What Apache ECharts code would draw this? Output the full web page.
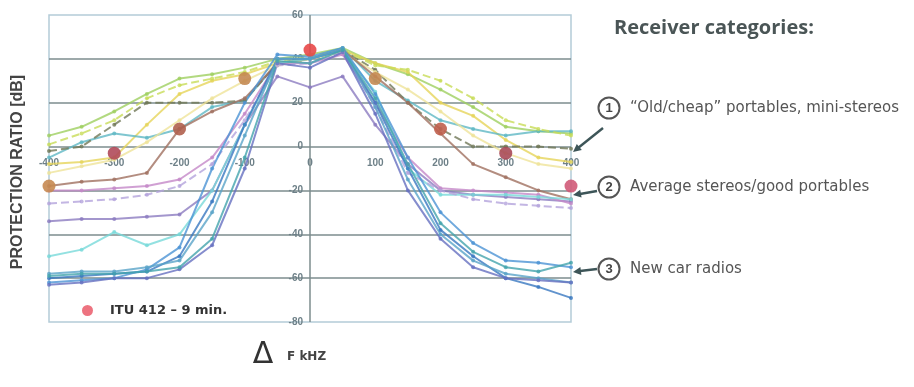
<!DOCTYPE html>
<html>
<head>
<meta charset="utf-8">
<script src="https://cdn.jsdelivr.net/npm/echarts@6/dist/echarts.min.js"></script>
<style>
  html, body { margin: 0; padding: 0; background: #fff; }
  #chart { width: 914px; height: 387px; }
</style>
</head>
<body>
<div id="chart"></div>
<script>
// frequency offsets (kHz) where receivers were measured
const freqs = [-400, -350, -300, -250, -200, -150, -100, -50, 0, 50, 100, 150, 200, 250, 300, 350, 400];

// 1: "Old/cheap" portables, mini-stereos
const oldA = [5, 9, 16, 24, 31, 33, 36, 40, 42, 45, 38, 33, 26, 18, 9, 7, 6];
const oldB = [-8, -7, -5, 10, 24, 30, 33, 38, 40, 44, 38, 34, 20, 14, 3, -5, -7];
const oldC = [-5, 2, 6, 4, 8, 18, 21, 38, 40, 45, 30, 21, 12, 8, 5, 7, 7];
const oldD = [-2, 0, 10, 20, 20, 20, 21, 38, 40, 44, 35, 20, 8, 0, 0, 0, -1];
const oldE = [-12, -9, -6, 2, 12, 22, 30, 37, 40, 43, 34, 26, 16, 5, -3, -8, -10];
const oldF = [1, 6, 12, 22, 28, 31, 34, 39, 41, 44, 37, 35, 30, 22, 12, 8, 5];

// 2: Average stereos / good portables
const avgA = [-18, -16, -15, -12, 8, 16, 22, 38, 40, 44, 32, 20, 6, -8, -14, -20, -24];
const avgB = [-34, -33, -33, -32, -31, -20, 10, 32, 27, 32, 10, -8, -20, -22, -23, -24, -25];
const avgC = [-20, -20, -19, -18, -15, -5, 15, 38, 38, 42, 20, -5, -19, -20, -21, -22, -26];
const avgD = [-50, -47, -39, -45, -40, -20, 10, 38, 40, 44, 25, -10, -22, -22, -22, -23, -24];
const avgE = [-26, -25, -24, -22, -18, -8, 12, 37, 38, 43, 18, -12, -20, -24, -26, -27, -28];

// 3: New car radios
const carA = [-60, -59, -58, -57, -50, -25, 10, 40, 40, 44, 20, -10, -38, -50, -60, -64, -69];
const carB = [-62, -61, -60, -56, -46, -10, 20, 42, 41, 45, 24, -5, -30, -44, -52, -53, -55];
const carC = [-58, -57, -57, -55, -52, -30, 5, 40, 40, 44, 18, -15, -40, -52, -58, -60, -62];
const carD = [-63, -62, -60, -60, -56, -45, -10, 38, 36, 43, 15, -20, -42, -55, -60, -61, -62];
const carE = [-59, -58, -58, -57, -55, -42, -5, 39, 38, 44, 22, -8, -35, -48, -55, -57, -53];

// ITU 412 reference points
const ituFreqs = [-400, -300, -200, -100, 0, 100, 200, 300, 400];
const ituVals = [-18, -3, 8, 31, 44, 31, 8, -3, -18];

const receivers = [oldA, oldB, oldC, oldD, oldE, oldF, avgA, avgB, avgC, avgD, avgE, carA, carB, carC, carD, carE];
const lineColors = ['#9fd060', '#e6d45a', '#5fb8c4', '#707858', '#efe39a', '#c8dc58',
                    '#a07060', '#8c7cc0', '#c488c8', '#78dada', '#b4a4dc',
                    '#3a78c0', '#4c94d4', '#5aa4c8', '#6670c0', '#44a4ac'];
const dashed = [false, false, false, true, false, true, false, false, false, false, true,
                false, false, false, false, false];
const ituColors = ['#c68a52', '#b04a5a', '#b0604e', '#c48a52', '#e84848', '#c48a52', '#c0604e', '#a84a58', '#d05a78'];

const chart = echarts.init(document.getElementById('chart'));

const axisGrey = '#7d8c8e';

const series = receivers.map((vals, i) => ({
    type: 'line',
    data: freqs.map((f, j) => [f, vals[j]]),
    symbol: 'circle',
    symbolSize: 4,
    silent: true,
    lineStyle: { color: lineColors[i], width: 2, opacity: 0.8, type: dashed[i] ? [8, 4] : 'solid' },
    itemStyle: { color: lineColors[i], opacity: 0.8 },
    z: 2,
}));

// vertical axis line at 0 kHz
series[0].markLine = {
    silent: true, symbol: 'none', label: { show: false },
    lineStyle: { color: axisGrey, width: 1.5, type: 'solid' },
    data: [{ xAxis: 0 }],
    z: 1,
};

series.push({
    name: 'ITU 412 \u2013 9 min.',
    type: 'scatter',
    symbolSize: 13,
    itemStyle: { color: '#e85060' },
    data: ituFreqs.map((f, i) => ({ value: [f, ituVals[i]], itemStyle: { color: ituColors[i], opacity: 0.9 } })),
    z: 5,
});

const labelStyle = { color: '#6e8088', fontSize: 10, fontWeight: 'bold', fontFamily: 'Liberation Sans' };

const option = {
    animation: false,
    grid: { left: 49, right: 343, top: 15, bottom: 65, show: true, borderColor: '#b4ccd8', borderWidth: 1.5 },
    legend: {
        data: ['ITU 412 \u2013 9 min.'],
        left: 77, top: 299,
        icon: 'circle', itemWidth: 11, itemHeight: 11, itemGap: 10,
        textStyle: { color: '#333', fontSize: 13, fontWeight: 'bold', fontFamily: 'DejaVu Sans', padding: [0, 0, 0, 12] },
    },
    xAxis: {
        type: 'value', min: -400, max: 400, interval: 100,
        axisLine: { onZero: false, show: false },
        axisTick: { show: false },
        splitLine: { show: false },
        // labels sit just under the 0 dB line
        axisLabel: Object.assign({ margin: -164 }, labelStyle),
    },
    yAxis: {
        type: 'value', min: -80, max: 60, interval: 20,
        axisLine: { show: false, onZero: false },
        axisTick: { show: false },
        splitLine: { show: true, showMinLine: false, showMaxLine: false, lineStyle: { color: axisGrey, width: 1.5 } },
        // labels sit left of the 0 kHz line
        axisLabel: Object.assign({ margin: -254 }, labelStyle),
    },
    series: series,
    graphic: [
        { type: 'text', x: 18, y: 172, rotation: Math.PI / 2, style: {
            text: 'PROTECTION RATIO [dB]', fill: '#444', font: 'bold 16px "Liberation Sans"',
            align: 'center', verticalAlign: 'middle' } },
        { type: 'text', x: 263, y: 355, style: { text: '\u0394', fill: '#333', font: '30px "DejaVu Sans"', align: 'center', verticalAlign: 'middle' } },
        { type: 'text', x: 287, y: 357, style: { text: 'F kHZ', fill: '#444', font: 'bold 12px "DejaVu Sans"', verticalAlign: 'middle' } },
        { type: 'text', x: 614, y: 28, style: { text: 'Receiver categories:', fill: '#4a5556', font: 'bold 20px "Open Sans"', verticalAlign: 'middle' } },

        { type: 'circle', shape: { cx: 609, cy: 108, r: 10.5 }, style: { fill: '#fff', stroke: '#555', lineWidth: 2 } },
        { type: 'text', x: 609, y: 108, style: { text: '1', fill: '#444', font: 'bold 13px "Liberation Sans"', align: 'center', verticalAlign: 'middle' } },
        { type: 'text', x: 630, y: 108, style: { text: '\u201cOld/cheap\u201d portables, mini-stereos', fill: '#555', font: '15px "DejaVu Sans"', verticalAlign: 'middle' } },
        { type: 'polyline', shape: { points: [[603, 128], [578, 148]] }, style: { stroke: '#3d5558', lineWidth: 2.5 } },
        { type: 'polygon', shape: { points: [[573, 152], [581.8, 150.1], [576.8, 143.9]] }, style: { fill: '#3d5558' } },

        { type: 'circle', shape: { cx: 609, cy: 187, r: 10.5 }, style: { fill: '#fff', stroke: '#555', lineWidth: 2 } },
        { type: 'text', x: 609, y: 187, style: { text: '2', fill: '#444', font: 'bold 13px "Liberation Sans"', align: 'center', verticalAlign: 'middle' } },
        { type: 'text', x: 630, y: 187, style: { text: 'Average stereos/good portables', fill: '#555', font: '15px "DejaVu Sans"', verticalAlign: 'middle' } },
        { type: 'polyline', shape: { points: [[597, 191], [580, 194]] }, style: { stroke: '#3d5558', lineWidth: 2.5 } },
        { type: 'polygon', shape: { points: [[573, 195], [581.6, 197.5], [580.2, 189.7]] }, style: { fill: '#3d5558' } },

        { type: 'circle', shape: { cx: 609, cy: 269, r: 10.5 }, style: { fill: '#fff', stroke: '#555', lineWidth: 2 } },
        { type: 'text', x: 609, y: 269, style: { text: '3', fill: '#444', font: 'bold 13px "Liberation Sans"', align: 'center', verticalAlign: 'middle' } },
        { type: 'text', x: 630, y: 269, style: { text: 'New car radios', fill: '#555', font: '15px "DejaVu Sans"', verticalAlign: 'middle' } },
        { type: 'polyline', shape: { points: [[597, 269], [580, 271]] }, style: { stroke: '#3d5558', lineWidth: 2.5 } },
        { type: 'polygon', shape: { points: [[573, 272], [581.4, 275], [580.4, 267]] }, style: { fill: '#3d5558' } },
    ],
};

chart.setOption(option);
</script>
</body>
</html>
